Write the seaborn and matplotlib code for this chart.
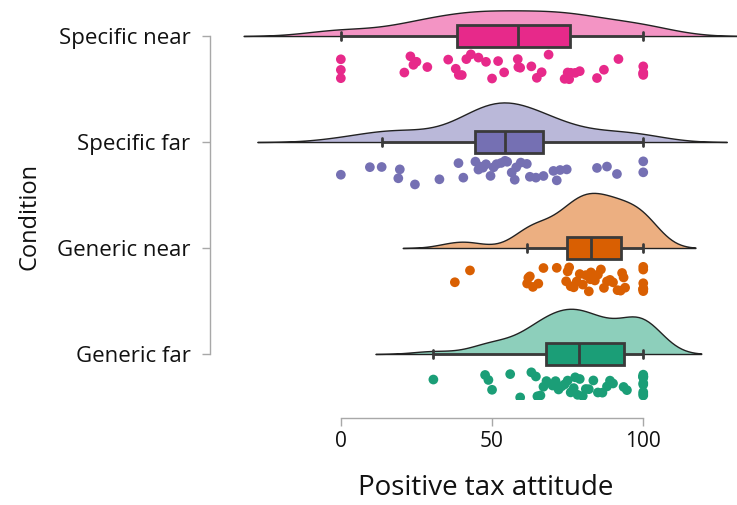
import numpy as np
import pandas as pd
import matplotlib
matplotlib.use("Agg")
import matplotlib.pyplot as plt
import matplotlib.transforms as mtransforms
import seaborn as sns

conditions = ["Specific near", "Specific far", "Generic near", "Generic far"]

specific_near = [0, 0, 0,
                 21, 23, 24, 25, 28.6,
                 35.5, 38, 39, 40, 41.5, 43,
                 45.5, 48, 50, 52, 54,
                 58.5, 58.7, 59.3,
                 63, 64.8, 66.4, 68.7,
                 74, 75, 75.5, 76, 77.5, 79,
                 84.7, 87,
                 91.8,
                 100, 100, 100, 100]

specific_far = [0,
                9.6, 13.5, 19, 19.5, 24.5,
                32.6,
                38.9, 40.5,
                44.5, 45.5, 46, 47, 48, 49.5, 50.5, 51.5, 53, 54.3,
                55, 56.5, 57.5, 58, 59.5, 61.5, 62.5, 64.5, 67,
                70.3, 71.4, 72.5, 74.7,
                84.7, 88, 91.3,
                100, 100]

generic_near = [37.7, 42.7,
                61.6, 62, 62.5, 63.5,
                65.3, 67, 71.4,
                74.5, 75, 75.5, 76,
                77, 78, 79, 80, 81, 82,
                82.5, 82.7,
                84, 85, 86, 87, 88, 89, 90, 91.5,
                92.5, 93, 93.5, 94,
                100, 100, 100, 100, 100, 100, 100]

generic_far = [30.6,
               47.7, 48.8, 50,
               56, 59.3,
               63, 64.5, 65, 66, 67,
               68,
               70, 71, 72, 73, 74, 75, 76, 77, 77.5, 78.3,
               79,
               80, 81, 82, 83.5, 85,
               86.5, 88, 89, 90,
               93.5, 94.6,
               100, 100, 100, 100, 100, 100, 100, 100, 100, 100]

series = [specific_near, specific_far, generic_near, generic_far]
df = pd.DataFrame({
    "Condition": np.repeat(conditions, [len(s) for s in series]),
    "Positive tax attitude": np.concatenate(series),
})

base = sns.color_palette("Dark2", 4)
dark = dict(zip(conditions, [base[3], base[2], base[1], base[0]]))
light = {k: tuple(0.5 * np.array(v) + 0.5) for k, v in dark.items()}

sns.set_style("ticks")
plt.rcParams["font.family"] = ["Open Sans", "DejaVu Sans"]

fig = plt.figure(figsize=(7.37, 5.05), dpi=100)
ax = fig.add_axes([235 / 737, 105 / 505, 502 / 737, 400 / 505])

x = "Positive tax attitude"
y = "Condition"

# half-violin clouds with a shared area scale
violin_w = 0.52
n0 = len(ax.collections)
sns.violinplot(data=df, x=x, y=y, order=conditions, color="#cccccc",
               split=True, inner=None, cut=2.8, width=violin_w, bw_adjust=0.85,
               linecolor="#222222", linewidth=1.0, saturation=1, ax=ax)
lift = mtransforms.Affine2D().translate(0, -violin_w / 2) + ax.transData
for cond, coll in zip(conditions, ax.collections[n0:]):
    coll.set_facecolor(light[cond])
    coll.set_transform(lift)

# boxes on the baseline
sns.boxplot(data=df, x=x, y=y, hue=y, order=conditions, hue_order=conditions,
            palette=dark, saturation=1, width=0.21, showfliers=False,
            linecolor="#3a3a3a", linewidth=2.0, legend=False, capwidths=0.08,
            ax=ax)

# jittered rain below each cloud
n1 = len(ax.collections)
sns.stripplot(data=df, x=x, y=y, hue=y, order=conditions, hue_order=conditions,
              palette=dark, jitter=0.12, size=7, linewidth=0, legend=False,
              ax=ax)
shift = mtransforms.ScaledTranslation(0, -0.31, fig.dpi_scale_trans)
for coll in ax.collections[n1:]:
    coll.set_offset_transform(ax.transData + shift)

ax.set_xlim(-35, 131)
ax.set_ylim(3.434, -0.34)
ax.set_xticks([0, 50, 100])

sns.despine(ax=ax, top=True, right=True)
ax.spines["bottom"].set_position(("outward", 13))
ax.spines["left"].set_position(("outward", 18))
ax.spines["bottom"].set_bounds(0, 100)
ax.spines["left"].set_bounds(0, 3)
for s in ("bottom", "left"):
    ax.spines[s].set_color("#a8a8a8")
    ax.spines[s].set_linewidth(1.0)
ax.tick_params(axis="both", colors="#a8a8a8", labelcolor="#111111",
               length=6, width=1.0)
ax.tick_params(axis="x", labelsize=15)
ax.tick_params(axis="y", labelsize=16, pad=8)

ax.set_xlabel("Positive tax attitude", fontsize=20, color="#111111", labelpad=16)
ax.set_ylabel("Condition", fontsize=17, color="#111111")
ax.yaxis.set_label_coords(-0.385, 0.46)

fig.savefig("out.png", dpi=100)
